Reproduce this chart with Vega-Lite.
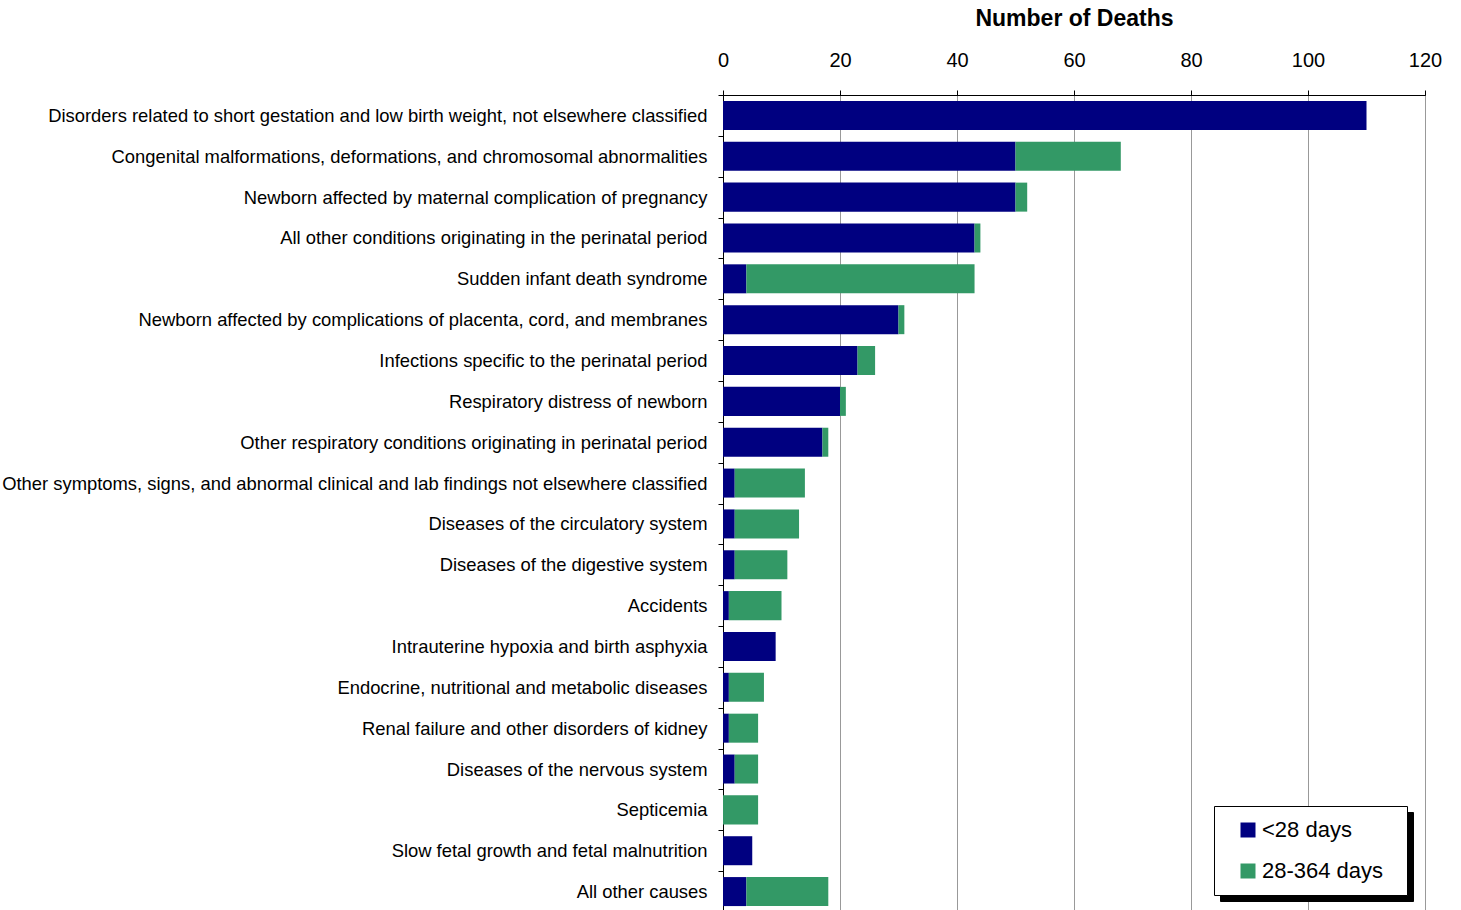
{
  "$schema": "https://vega.github.io/schema/vega-lite/v6.json",
  "autosize": {"type": "none"},
  "width": 702,
  "height": 817,
  "padding": {"left": 723, "top": 95, "right": 36, "bottom": 0},
  "background": "white",
  "config": {
    "font": "Liberation Sans",
    "view": {"stroke": "black", "strokeWidth": 1}
  },
  "data": {
    "values": [
      {"cause": "Disorders related to short gestation and low birth weight, not elsewhere classified", "age": "<28 days", "k": 1, "deaths": 110},
      {"cause": "Disorders related to short gestation and low birth weight, not elsewhere classified", "age": "28-364 days", "k": 2, "deaths": 0},
      {"cause": "Congenital malformations, deformations, and chromosomal abnormalities", "age": "<28 days", "k": 1, "deaths": 50},
      {"cause": "Congenital malformations, deformations, and chromosomal abnormalities", "age": "28-364 days", "k": 2, "deaths": 18},
      {"cause": "Newborn affected by maternal complication of pregnancy", "age": "<28 days", "k": 1, "deaths": 50},
      {"cause": "Newborn affected by maternal complication of pregnancy", "age": "28-364 days", "k": 2, "deaths": 2},
      {"cause": "All other conditions originating in the perinatal period", "age": "<28 days", "k": 1, "deaths": 43},
      {"cause": "All other conditions originating in the perinatal period", "age": "28-364 days", "k": 2, "deaths": 1},
      {"cause": "Sudden infant death syndrome", "age": "<28 days", "k": 1, "deaths": 4},
      {"cause": "Sudden infant death syndrome", "age": "28-364 days", "k": 2, "deaths": 39},
      {"cause": "Newborn affected by complications of placenta, cord, and membranes", "age": "<28 days", "k": 1, "deaths": 30},
      {"cause": "Newborn affected by complications of placenta, cord, and membranes", "age": "28-364 days", "k": 2, "deaths": 1},
      {"cause": "Infections specific to the perinatal period", "age": "<28 days", "k": 1, "deaths": 23},
      {"cause": "Infections specific to the perinatal period", "age": "28-364 days", "k": 2, "deaths": 3},
      {"cause": "Respiratory distress of newborn", "age": "<28 days", "k": 1, "deaths": 20},
      {"cause": "Respiratory distress of newborn", "age": "28-364 days", "k": 2, "deaths": 1},
      {"cause": "Other respiratory conditions originating in perinatal period", "age": "<28 days", "k": 1, "deaths": 17},
      {"cause": "Other respiratory conditions originating in perinatal period", "age": "28-364 days", "k": 2, "deaths": 1},
      {"cause": "Other symptoms, signs, and abnormal clinical and lab findings not elsewhere classified", "age": "<28 days", "k": 1, "deaths": 2},
      {"cause": "Other symptoms, signs, and abnormal clinical and lab findings not elsewhere classified", "age": "28-364 days", "k": 2, "deaths": 12},
      {"cause": "Diseases of the circulatory system", "age": "<28 days", "k": 1, "deaths": 2},
      {"cause": "Diseases of the circulatory system", "age": "28-364 days", "k": 2, "deaths": 11},
      {"cause": "Diseases of the digestive system", "age": "<28 days", "k": 1, "deaths": 2},
      {"cause": "Diseases of the digestive system", "age": "28-364 days", "k": 2, "deaths": 9},
      {"cause": "Accidents", "age": "<28 days", "k": 1, "deaths": 1},
      {"cause": "Accidents", "age": "28-364 days", "k": 2, "deaths": 9},
      {"cause": "Intrauterine hypoxia and birth asphyxia", "age": "<28 days", "k": 1, "deaths": 9},
      {"cause": "Intrauterine hypoxia and birth asphyxia", "age": "28-364 days", "k": 2, "deaths": 0},
      {"cause": "Endocrine, nutritional and metabolic diseases", "age": "<28 days", "k": 1, "deaths": 1},
      {"cause": "Endocrine, nutritional and metabolic diseases", "age": "28-364 days", "k": 2, "deaths": 6},
      {"cause": "Renal failure and other disorders of kidney", "age": "<28 days", "k": 1, "deaths": 1},
      {"cause": "Renal failure and other disorders of kidney", "age": "28-364 days", "k": 2, "deaths": 5},
      {"cause": "Diseases of the nervous system", "age": "<28 days", "k": 1, "deaths": 2},
      {"cause": "Diseases of the nervous system", "age": "28-364 days", "k": 2, "deaths": 4},
      {"cause": "Septicemia", "age": "<28 days", "k": 1, "deaths": 0},
      {"cause": "Septicemia", "age": "28-364 days", "k": 2, "deaths": 6},
      {"cause": "Slow fetal growth and fetal malnutrition", "age": "<28 days", "k": 1, "deaths": 5},
      {"cause": "Slow fetal growth and fetal malnutrition", "age": "28-364 days", "k": 2, "deaths": 0},
      {"cause": "All other causes", "age": "<28 days", "k": 1, "deaths": 4},
      {"cause": "All other causes", "age": "28-364 days", "k": 2, "deaths": 14}
    ]
  },
  "mark": {"type": "bar", "height": {"band": 0.71}},
  "encoding": {
    "y": {
      "field": "cause",
      "type": "nominal",
      "sort": null,
      "scale": {"paddingInner": 0, "paddingOuter": 0},
      "axis": {
        "title": null,
        "domainColor": "black",
        "tickColor": "black",
        "tickSize": 5,
        "tickBand": "extent",
        "labelPadding": 11,
        "labelFontSize": 18.4,
        "labelColor": "black",
        "labelLimit": 900
      }
    },
    "x": {
      "field": "deaths",
      "type": "quantitative",
      "stack": "zero",
      "scale": {"domain": [0, 120], "nice": false},
      "axis": {
        "orient": "top",
        "title": "Number of Deaths",
        "titleFontSize": 23,
        "titleFontWeight": "bold",
        "titleColor": "black",
        "titlePadding": 20,
        "values": [0, 20, 40, 60, 80, 100, 120],
        "grid": true,
        "gridColor": "#999999",
        "gridWidth": 1,
        "domainColor": "black",
        "tickColor": "black",
        "tickSize": 5,
        "labelFontSize": 20,
        "labelColor": "black",
        "labelPadding": 20,
        "labelFlush": false
      }
    },
    "color": {
      "field": "age",
      "type": "nominal",
      "scale": {"domain": ["<28 days", "28-364 days"], "range": ["#000080", "#339966"]},
      "legend": {
        "title": "\u00a0",
        "titleOrient": "right",
        "titleFontSize": 11,
        "titlePadding": 11,
        "orient": "none",
        "legendX": 491,
        "legendY": 711,
        "zindex": 2,
        "strokeColor": "black",
        "fillColor": "white",
        "padding": 13,
        "symbolType": "square",
        "symbolSize": 225,
        "symbolStrokeWidth": 0,
        "symbolOpacity": 1,
        "symbolOffset": 10,
        "labelFontSize": 22,
        "labelColor": "black",
        "labelOffset": 3,
        "rowPadding": 19
      }
    },
    "opacity": {
      "field": "k",
      "type": "nominal",
      "scale": {"domain": [1, 2], "range": [1, 1]},
      "legend": {
        "title": "\u00a0",
        "titleOrient": "right",
        "titleFontSize": 11,
        "titlePadding": 132,
        "orient": "none",
        "legendX": 497,
        "legendY": 717,
        "zindex": 1,
        "strokeColor": "black",
        "fillColor": "black",
        "padding": 13,
        "symbolType": "square",
        "symbolSize": 225,
        "symbolFillColor": "black",
        "symbolStrokeWidth": 0,
        "symbolOffset": 10,
        "labelExpr": "''",
        "labelFontSize": 22,
        "labelColor": "black",
        "labelOffset": 3,
        "rowPadding": 19
      }
    },
    "order": {"field": "k", "type": "quantitative"}
  }
}
